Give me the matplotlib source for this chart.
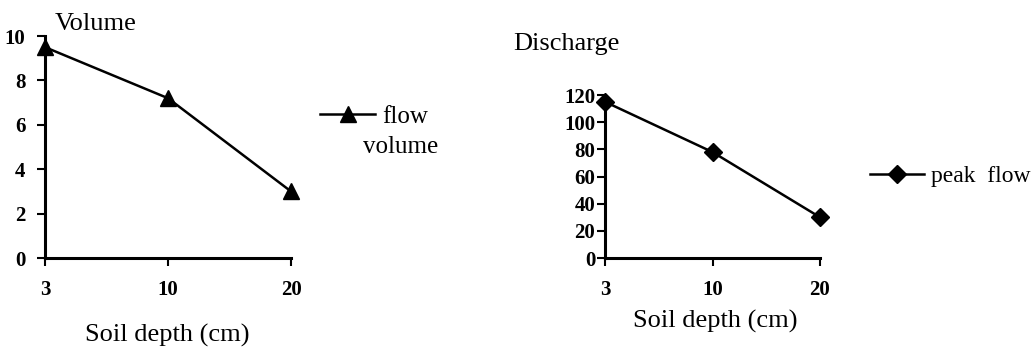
import matplotlib.pyplot as plt

plt.rcParams['font.family'] = ['Liberation Serif', 'DejaVu Serif']

depths = ['3', '10', '20']
flow_volume = [9.5, 7.2, 3.0]
peak_flow = [115, 78, 30]

fig = plt.figure(figsize=(10.36, 3.49), dpi=100)

ax1 = fig.add_axes([0.0434, 0.2607, 0.2375, 0.636])
ax2 = fig.add_axes([0.584, 0.2607, 0.2075, 0.467])

pos = list(range(len(depths)))
ax1.plot(pos, flow_volume, color='black', lw=1.8, marker='^', ms=11,
         clip_on=False, label='flow')
ax2.plot(pos, peak_flow, color='black', lw=1.8, marker='D', ms=9,
         clip_on=False, label='peak  flow')

ax1.set_ylim(0, 10)
ax1.set_yticks(range(0, 11, 2))
ax2.set_ylim(0, 120)
ax2.set_yticks(range(0, 121, 20))

for ax in (ax1, ax2):
    ax.set_xlim(0, 2)
    ax.set_xticks(pos)
    ax.set_xticklabels(depths)
    for s in ('top', 'right'):
        ax.spines[s].set_visible(False)
    for s in ('left', 'bottom'):
        ax.spines[s].set_linewidth(2.2)
    ax.tick_params(direction='out', length=6, width=1.5, labelsize=15)
    ax.tick_params(axis='x', pad=10)
    for lab in ax.get_xticklabels() + ax.get_yticklabels():
        lab.set_fontweight('bold')

ax1.tick_params(axis='y', pad=8)
ax2.tick_params(axis='y', pad=1)

fig.text(0.092, 0.930, 'Volume', fontsize=19, ha='center', va='center')
fig.text(0.161, 0.040, 'Soil depth (cm)', fontsize=19, ha='center', va='center')
fig.text(0.547, 0.873, 'Discharge', fontsize=19, ha='center', va='center')
fig.text(0.690, 0.080, 'Soil depth (cm)', fontsize=19, ha='center', va='center')

# legend handle sits beside the first line of the label, second line drawn below
ax1.legend(loc='center left', bbox_to_anchor=(0.297, 0.665), bbox_transform=fig.transFigure,
           frameon=False, fontsize=18, handlelength=2.2, handletextpad=0.3, borderpad=0)
fig.text(0.350, 0.580, 'volume', fontsize=18, ha='left', va='center')
ax2.legend(loc='center left', bbox_to_anchor=(0.828, 0.495), bbox_transform=fig.transFigure,
           frameon=False, fontsize=17, handlelength=2.3, handletextpad=0.3, borderpad=0)

fig.savefig('out.png', dpi=100)
